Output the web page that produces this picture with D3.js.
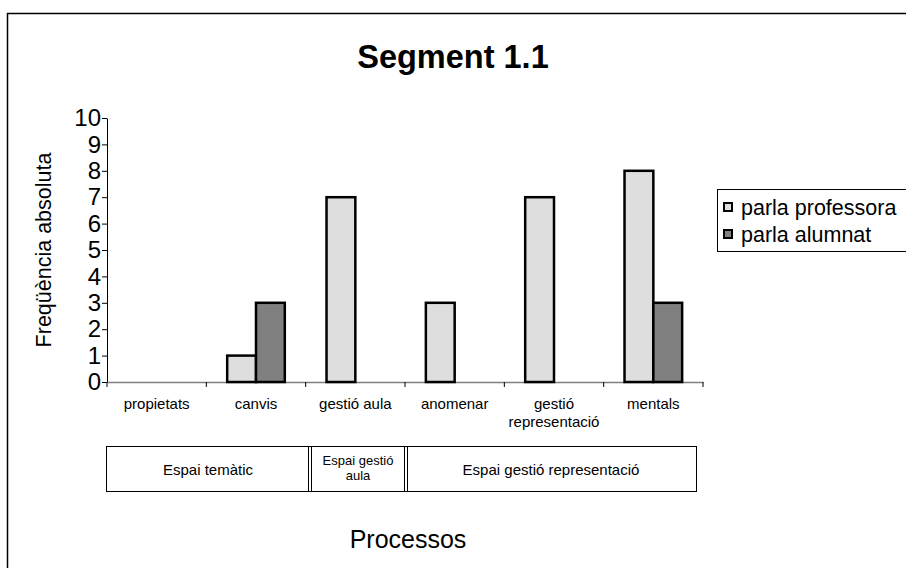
<!DOCTYPE html>
<html>
<head>
<meta charset="utf-8">
<script src="https://cdn.jsdelivr.net/npm/d3@7"></script>
<style>
  html, body { margin: 0; padding: 0; background: #fff; }
  svg { display: block; font-family: "Liberation Sans", Arial, sans-serif; }
</style>
</head>
<body>
<svg id="chart" width="906" height="568"></svg>
<script>
const categories = ["propietats", "canvis", "gestió aula", "anomenar", "gestió representació", "mentals"];
const categoryLines = [["propietats"], ["canvis"], ["gestió aula"], ["anomenar"], ["gestió", "representació"], ["mentals"]];
const seriesNames = ["parla professora", "parla alumnat"];
const professora = [0, 1, 7, 3, 7, 8];
const alumnat = [0, 3, 0, 0, 0, 3];
const yTicks = [0, 1, 2, 3, 4, 5, 6, 7, 8, 9, 10];
const groups = [
  { lines: ["Espai temàtic"], from: 0, to: 2 },
  { lines: ["Espai gestió", "aula"], from: 2, to: 3 },
  { lines: ["Espai gestió representació"], from: 3, to: 6 }
];
const colors = ["#dedede", "#808080"];

const svg = d3.select("#chart");

// outer frame
svg.append("rect").attr("x", 7.5).attr("y", 13.5).attr("width", 920).attr("height", 600)
  .attr("fill", "none").attr("stroke", "#000").attr("stroke-width", 1.5);

const x0 = 107, x1 = 703, yTop = 118, yBot = 382;
const x = d3.scaleBand().domain(categories).range([x0, x1]).paddingInner(0).paddingOuter(0);
const y = d3.scaleLinear().domain([0, 10]).range([yBot, yTop]);
const barW = x.bandwidth() * 0.29;

// title
svg.append("text").attr("x", 453).attr("y", 68).attr("text-anchor", "middle")
  .attr("font-size", 32.5).attr("font-weight", "bold").text("Segment 1.1");

// y axis
const yAxis = svg.append("g").attr("transform", `translate(${x0},0)`)
  .call(d3.axisLeft(y).tickValues(yTicks).tickSize(5).tickSizeOuter(0).tickFormat(d3.format("d")));
yAxis.select(".domain").attr("stroke", "#000");
yAxis.selectAll(".tick line").attr("stroke", "#000");
yAxis.selectAll(".tick text").attr("font-size", 24).attr("fill", "#000").attr("x", -6)
  .attr("font-family", "Liberation Sans, Arial, sans-serif");

// x axis
const xAxis = svg.append("g").attr("transform", `translate(0,${yBot})`)
  .call(d3.axisBottom(x).tickSize(0).tickFormat(""));
xAxis.select(".domain").attr("stroke", "#808080").attr("stroke-width", 1.5);
const bounds = d3.range(categories.length + 1).map(i => x0 + i * x.step());
xAxis.selectAll(".btick").data(bounds).enter().append("line")
  .attr("x1", d => d).attr("x2", d => d).attr("y1", 0).attr("y2", 5).attr("stroke", "#000");

// category labels
categories.forEach((c, i) => {
  const t = svg.append("text").attr("text-anchor", "middle").attr("font-size", 15)
    .attr("x", x(c) + x.bandwidth() / 2).attr("y", 409);
  categoryLines[i].forEach((ln, j) => {
    t.append("tspan").attr("x", x(c) + x.bandwidth() / 2).attr("dy", j === 0 ? 0 : 18).text(ln);
  });
});

// bars
const series = [professora, alumnat];
series.forEach((vals, s) => {
  svg.append("g").selectAll("rect").data(categories.map((c, i) => ({ c, v: vals[i] })).filter(d => d.v > 0))
    .enter().append("rect")
    .attr("x", d => x(d.c) + x.bandwidth() / 2 - barW + s * barW)
    .attr("y", d => y(d.v))
    .attr("width", barW)
    .attr("height", d => y(0) - y(d.v))
    .attr("fill", colors[s]).attr("stroke", "#000").attr("stroke-width", 2.5);
});

// y title
svg.append("text").attr("transform", "translate(51,250) rotate(-90)").attr("text-anchor", "middle")
  .attr("font-size", 21.5).text("Freqüència absoluta");

// group table
const tTop = 446, tBot = 491, tLeft = 106, tRight = 696;
const divX = [310, 406];
svg.append("rect").attr("x", tLeft + 0.5).attr("y", tTop + 0.5).attr("width", tRight - tLeft).attr("height", tBot - tTop)
  .attr("fill", "none").attr("stroke", "#000").attr("stroke-width", 1);
divX.forEach(dx => {
  [dx - 1.5, dx + 1.5].forEach(lx => {
    svg.append("line").attr("x1", lx).attr("x2", lx).attr("y1", tTop).attr("y2", tBot)
      .attr("stroke", "#000").attr("stroke-width", 1);
  });
});
const cellEdges = [tLeft, divX[0], divX[1], tRight];
groups.forEach((g, i) => {
  const cx = (cellEdges[i] + cellEdges[i + 1]) / 2;
  const n = g.lines.length;
  g.lines.forEach((ln, j) => {
    svg.append("text").attr("text-anchor", "middle").attr("font-size", n === 1 ? 15 : 13)
      .attr("x", cx).attr("y", n === 1 ? 475 : 465 + j * 15).text(ln);
  });
});

// x title
svg.append("text").attr("x", 408).attr("y", 548).attr("text-anchor", "middle")
  .attr("font-size", 25).text("Processos");

// legend
svg.append("rect").attr("x", 717.5).attr("y", 189.5).attr("width", 220).attr("height", 62)
  .attr("fill", "#fff").attr("stroke", "#000").attr("stroke-width", 1);
seriesNames.forEach((n, i) => {
  const ly = 207 + i * 27;
  svg.append("rect").attr("x", 724).attr("y", ly - 4).attr("width", 8).attr("height", 8)
    .attr("fill", colors[i]).attr("stroke", "#000").attr("stroke-width", 2);
  svg.append("text").attr("x", 741).attr("y", ly + 8).attr("font-size", 21.5).text(n);
});
</script>
</body>
</html>
